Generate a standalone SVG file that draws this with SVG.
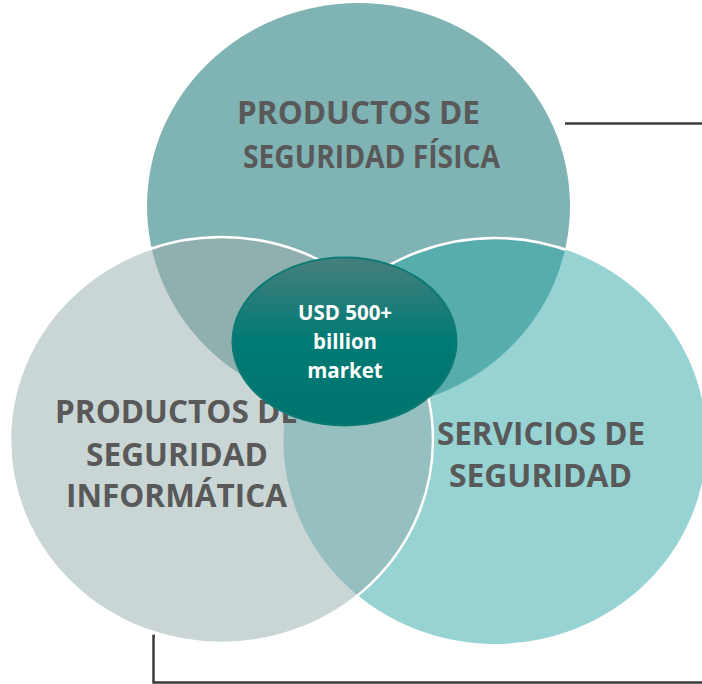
<svg xmlns="http://www.w3.org/2000/svg" xmlns:xlink="http://www.w3.org/1999/xlink" width="702" height="684" viewBox="0 0 702 684">
<style>
.lbl{font-family:"Open Sans","Liberation Sans",sans-serif;font-weight:700;font-size:32px;fill:#595959;text-anchor:middle}
.ctr{font-family:"Open Sans","Liberation Sans",sans-serif;font-weight:700;font-size:20.5px;fill:#ffffff;text-anchor:middle}
.conn{fill:none;stroke:#3a3a3a;stroke-width:2.5}
.wedge{fill:none;stroke:#ffffff;stroke-width:2.5}
</style>
<defs>
<ellipse id="eT" cx="358.5" cy="206" rx="211.5" ry="203"/>
<ellipse id="eL" cx="221.5" cy="440" rx="211.5" ry="203"/>
<ellipse id="eR" cx="495" cy="441" rx="211.5" ry="203"/>
<clipPath id="cT"><use xlink:href="#eT"/></clipPath>
<clipPath id="cL"><use xlink:href="#eL"/></clipPath>
<clipPath id="cR"><use xlink:href="#eR"/></clipPath>
<mask id="mR" maskUnits="userSpaceOnUse" x="0" y="0" width="702" height="684">
<use xlink:href="#eT" fill="#ffffff"/>
<use xlink:href="#eL" fill="#000000"/>
</mask>
<linearGradient id="gC" x1="0" y1="0" x2="0" y2="1">
<stop offset="0" stop-color="#477f7d"/>
<stop offset="0.5" stop-color="#007a74"/>
<stop offset="1" stop-color="#00746f"/>
</linearGradient>
</defs>

<g id="connectors">
<line class="conn" x1="565" y1="123.5" x2="702" y2="123.5"/>
<polyline class="conn" points="155,636 153.5,636 153.5,682.5 702,682.5"/>
</g>

<g id="node-fisica-shape"><use xlink:href="#eT" fill="#80b3b3"/></g>
<g id="node-servicios-shape"><use xlink:href="#eR" fill="#97d3d2"/></g>
<g id="node-informatica-shape"><use xlink:href="#eL" fill="#cad6d6"/></g>

<g id="overlaps">
<g clip-path="url(#cL)"><use xlink:href="#eT" fill="#8fb0af"/></g>
<g clip-path="url(#cR)"><use xlink:href="#eT" fill="#56adac"/></g>
<g clip-path="url(#cR)"><use xlink:href="#eL" fill="#96c0c0"/></g>
<g clip-path="url(#cT)"><g clip-path="url(#cR)"><use xlink:href="#eL" fill="#72a6a5"/></g></g>
</g>

<g id="edges">
<use xlink:href="#eL" class="wedge"/>
<g mask="url(#mR)"><use xlink:href="#eR" class="wedge"/></g>
</g>

<g id="node-fisica-label">
<text class="lbl" x="358.5" y="124" textLength="243" lengthAdjust="spacingAndGlyphs">PRODUCTOS DE</text>
<text class="lbl" x="371.5" y="168" textLength="257" lengthAdjust="spacingAndGlyphs">SEGURIDAD FÍSICA</text>
</g>
<g id="node-informatica-label">
<text class="lbl" x="176.5" y="423" textLength="243" lengthAdjust="spacingAndGlyphs">PRODUCTOS DE</text>
<text class="lbl" x="177" y="466" textLength="182" lengthAdjust="spacingAndGlyphs">SEGURIDAD</text>
<text class="lbl" x="176.5" y="507" textLength="221" lengthAdjust="spacingAndGlyphs">INFORMÁTICA</text>
</g>
<g id="node-servicios-label">
<text class="lbl" x="541" y="445" textLength="208" lengthAdjust="spacingAndGlyphs">SERVICIOS DE</text>
<text class="lbl" x="540.5" y="487" textLength="183" lengthAdjust="spacingAndGlyphs">SEGURIDAD</text>
</g>

<g id="node-center">
<ellipse cx="344.5" cy="341.5" rx="112" ry="84" fill="url(#gC)" stroke="#0e7a74" stroke-width="2"/>
<text class="ctr" x="345" y="320">USD 500+</text>
<text class="ctr" x="345" y="349">billion</text>
<text class="ctr" x="345" y="378">market</text>
</g>
</svg>
